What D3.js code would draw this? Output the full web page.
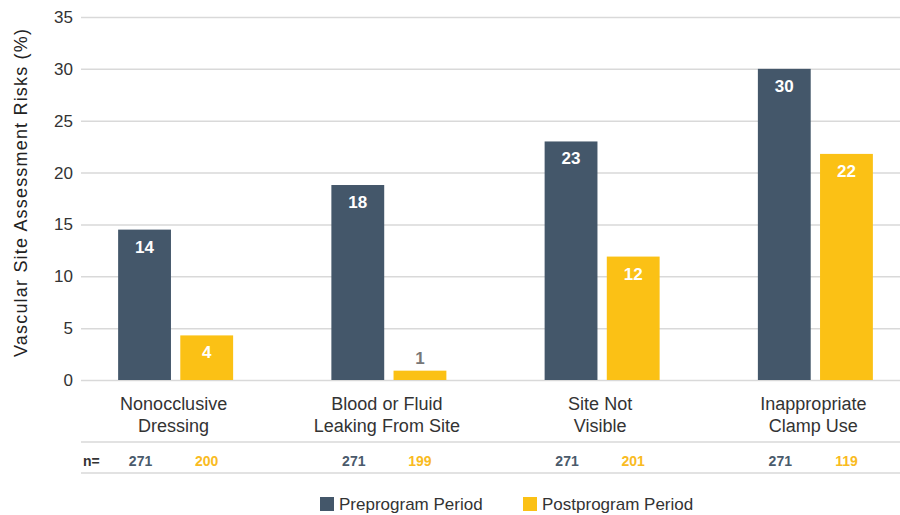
<!DOCTYPE html>
<meta charset="utf-8">
<style>
    body { margin: 0; background: #fff; }
    svg { font-family: "Liberation Sans", Arial, sans-serif; }
</style>
<body>
<script src="https://cdn.jsdelivr.net/npm/d3@7"></script>
<script>
    /* data */
    var categories = [["Nonocclusive", "Dressing"], ["Blood or Fluid", "Leaking From Site"],
                      ["Site Not", "Visible"], ["Inappropriate", "Clamp Use"]];
    var series = ["Preprogram Period", "Postprogram Period"];
    var preValues = [14.5, 18.8, 23, 30];
    var postValues = [4.3, 0.9, 11.9, 21.8];
    var preLabels = ["14", "18", "23", "30"];
    var postLabels = ["4", "1", "12", "22"];
    var preN = [271, 271, 271, 271];
    var postN = [200, 199, 201, 119];
    var yTicks = [0, 5, 10, 15, 20, 25, 30, 35];

    var w = 900, h = 515;
    var colors = ["#44576a", "#fbc115"];
    var nColors = ["#4a5a6b", "#f9bb22"];

    var svg = d3.select("body").append("svg")
        .attr("width", w)
        .attr("height", h);

    var yScale = d3.scaleLinear().domain([0, 35]).range([380, 17]);

    var x0 = d3.scaleBand()
        .domain(d3.range(categories.length))
        .range([69, 922]);

    var bw = x0.bandwidth();
    var x1 = d3.scaleBand()
        .domain([0, 1])
        .range([bw / 2 - 57.5, bw / 2 + 57.5])
        .paddingInner(0.15);

    // gridlines + tick labels
    var yAxis = d3.axisLeft(yScale)
        .tickValues(yTicks)
        .tickSize(-(900 - 81))
        .tickPadding(8);

    var gy = svg.append("g")
        .attr("transform", "translate(81,0)")
        .call(yAxis);
    gy.select(".domain").remove();
    gy.selectAll(".tick line").attr("stroke", "#d9d9d9").attr("stroke-width", 1.5);
    gy.selectAll(".tick text")
        .attr("fill", "#333")
        .attr("font-size", 17)
        .attr("font-family", "Liberation Sans, Arial, sans-serif");

    // y title
    svg.append("text")
        .attr("transform", "translate(27,193) rotate(-90)")
        .attr("text-anchor", "middle")
        .attr("font-size", 18)
        .attr("fill", "#222")
        .attr("textLength", 328)
        .attr("lengthAdjust", "spacing")
        .text("Vascular Site Assessment Risks (%)");

    var rows = categories.map(function (c, i) {
        return [
            { s: 0, v: preValues[i], label: preLabels[i], n: preN[i], cat: i },
            { s: 1, v: postValues[i], label: postLabels[i], n: postN[i], cat: i }
        ];
    });

    var groups = svg.selectAll(".grp")
        .data(rows)
        .enter().append("g")
        .attr("class", "grp")
        .attr("transform", function (d, i) { return "translate(" + x0(i) + ",0)"; });

    var cells = groups.selectAll(".cell")
        .data(function (d) { return d; })
        .enter().append("g");

    cells.append("rect")
        .attr("x", function (d) { return x1(d.s); })
        .attr("width", x1.bandwidth())
        .attr("y", function (d) { return yScale(d.v); })
        .attr("height", function (d) { return yScale(0) - yScale(d.v); })
        .attr("fill", function (d) { return colors[d.s]; });

    cells.append("text")
        .attr("x", function (d) { return x1(d.s) + x1.bandwidth() / 2; })
        .attr("y", function (d) {
            return d.v < 3 ? yScale(d.v) - 7 : yScale(d.v) + 23;
        })
        .attr("text-anchor", "middle")
        .attr("font-size", 17)
        .attr("font-weight", "bold")
        .attr("fill", function (d) { return d.v < 3 ? "#777" : "#fff"; })
        .text(function (d) { return d.label; });

    // n= values
    cells.append("text")
        .attr("x", function (d) { return x1(d.s) + x1.bandwidth() / 2 - (d.s === 0 ? 4 : 0); })
        .attr("y", 466)
        .attr("text-anchor", "middle")
        .attr("font-size", 14)
        .attr("font-weight", "bold")
        .attr("fill", function (d) { return nColors[d.s]; })
        .text(function (d) { return d.n; });

    // category labels
    groups.append("text")
        .attr("x", bw / 2)
        .attr("y", 410)
        .attr("text-anchor", "middle")
        .attr("font-size", 18)
        .attr("fill", "#333")
        .selectAll("tspan")
        .data(function (d, i) { return categories[i]; })
        .enter().append("tspan")
        .attr("x", bw / 2 - 2)
        .attr("dy", function (d, j) { return j === 0 ? 0 : 22; })
        .text(function (d) { return d; });

    // separators
    [442, 473].forEach(function (yy) {
        svg.append("line")
            .attr("x1", 81).attr("x2", 900)
            .attr("y1", yy).attr("y2", yy)
            .attr("stroke", "#d9d9d9")
            .attr("stroke-width", 1.5);
    });

    svg.append("text")
        .attr("x", 83)
        .attr("y", 466)
        .attr("font-size", 14)
        .attr("font-weight", "bold")
        .attr("fill", "#333")
        .text("n=");

    // legend
    var legX = [320, 523];
    var leg = svg.selectAll(".leg")
        .data(series)
        .enter().append("g")
        .attr("transform", function (d, i) { return "translate(" + legX[i] + ",497)"; });
    leg.append("rect")
        .attr("width", 14).attr("height", 14)
        .attr("fill", function (d, i) { return colors[i]; });
    leg.append("text")
        .attr("x", 19)
        .attr("y", 13)
        .attr("font-size", 17)
        .attr("fill", "#333")
        .text(function (d) { return d; });
</script>
</body>
